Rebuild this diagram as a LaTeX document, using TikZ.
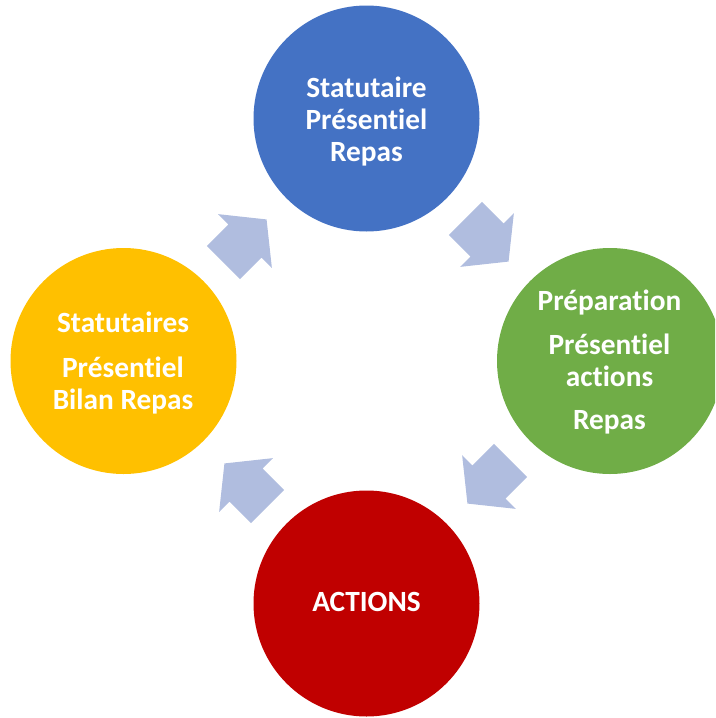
\documentclass[tikz,border=0pt]{standalone}
\usepackage{fontspec}
\setmainfont{Carlito}[Ligatures={NoCommon}]
\definecolor{stageblue}{RGB}{68,114,196}
\definecolor{stagegreen}{RGB}{112,173,71}
\definecolor{stagered}{RGB}{192,0,0}
\definecolor{stageyellow}{RGB}{255,192,0}
\definecolor{arrowblue}{RGB}{176,189,223}

\begin{document}
\begin{tikzpicture}[x=0.75pt,y=0.75pt,yscale=-1,xscale=1,
  stage/.style={circle, draw=none, inner sep=0pt, minimum size=169.5pt},
  stagetext/.style={text=white, align=center, inner sep=0pt, font=\fontsize{22}{23.8}\selectfont\bfseries},
  cyclearrow/.style={fill=arrowblue, draw=none}]
\useasboundingbox (0,0) rectangle (715,718);
\clip (0,0) rectangle (715,718);

%Shape: Circle [top]
\node [stage, fill=stageblue] (statut) at (366.5,118.5) {};
%Shape: Circle [right]
\node [stage, fill=stagegreen] (prep) at (610,361) {};
%Shape: Circle [bottom]
\node [stage, fill=stagered] (actions) at (366.5,603.5) {};
%Shape: Circle [left]
\node [stage, fill=stageyellow] (bilan) at (123.5,361) {};

%Shape: Right Arrow [top right]
\fill [cyclearrow, shift={(487,240)}, rotate=45] (-30.5,-23.5) -- (0,-23.5) -- (0,-38) -- (30.5,0) -- (0,38) -- (0,23.5) -- (-30.5,23.5) -- cycle ;
%Shape: Right Arrow [bottom right]
\fill [cyclearrow, shift={(489,482)}, rotate=135] (-30.5,-23.5) -- (0,-23.5) -- (0,-38) -- (30.5,0) -- (0,38) -- (0,23.5) -- (-30.5,23.5) -- cycle ;
%Shape: Right Arrow [bottom left]
\fill [cyclearrow, shift={(246,485)}, rotate=225] (-30.5,-23.5) -- (0,-23.5) -- (0,-38) -- (30.5,0) -- (0,38) -- (0,23.5) -- (-30.5,23.5) -- cycle ;
%Shape: Right Arrow [top left]
\fill [cyclearrow, shift={(245,241)}, rotate=-45] (-30.5,-23.5) -- (0,-23.5) -- (0,-38) -- (30.5,0) -- (0,38) -- (0,23.5) -- (-30.5,23.5) -- cycle ;

% Text Node
\node [stagetext] (statutTxt) at (366.5,121.3) {Statutaire\\Présentiel\\Repas};
% Text Node
\node [stagetext] (prepTxt) at (609.5,362) {Préparation\\[9.5pt]Présentiel\\actions\\[9pt]Repas};
% Text Node
\node [stagetext] (actionsTxt) at (366.5,602) {ACTIONS};
% Text Node
\node [stagetext] (bilanTxt) at (123,363) {Statutaires\\[9.5pt]Présentiel\\Bilan Repas};

\end{tikzpicture}
\end{document}
